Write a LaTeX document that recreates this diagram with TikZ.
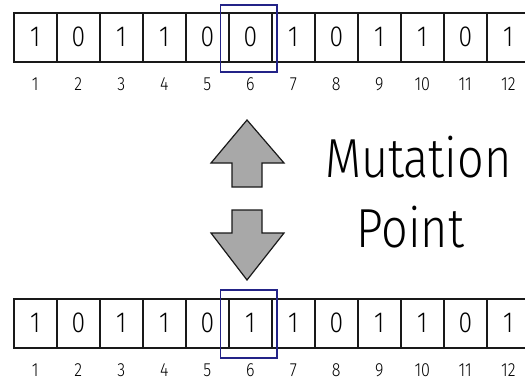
\documentclass[tikz,border=0pt]{standalone}
\usepackage{fontspec}
\setmainfont{Fira Sans}[UprightFont=* Light, FakeStretch=0.85]
\usetikzlibrary{matrix, calc}
\definecolor{markblue}{RGB}{35,35,135}
\definecolor{arrowgray}{RGB}{168,168,168}

\tikzset{
  chromosome/.style={matrix of nodes,
             nodes in empty cells,
             anchor=north west,
             inner sep=0pt, outer sep=0pt,
             column sep={43pt,between origins},
             row sep={46.5pt,between origins},
             nodes={draw=black!90, line width=1.6pt,
                    minimum width=43pt, minimum height=49pt,
                    inner sep=0pt, outer sep=0pt, anchor=center,
                    font=\fontsize{29}{29}\selectfont},
             row 2/.style={nodes={draw=none, minimum height=0pt,
                    font=\fontsize{19}{19}\selectfont}}},
  mutbox/.style={draw=markblue, line width=1.6pt},
  flip/.style={draw=black!90, fill=arrowgray, line width=1.2pt, line join=miter},
  caption/.style={inner sep=0pt, anchor=base west,
                  font=\fontsize{55}{55}\selectfont}
}

\begin{document}
\begin{tikzpicture}[x=1pt, y=-1pt]
\useasboundingbox (0,0) rectangle (525,380);

% parent string
\matrix (top) [chromosome] at (13,12)
{
1 & 0 & 1 & 1 & 0 & 0 & 1 & 0 & 1 & 1 & 0 & 1 \\
1 & 2 & 3 & 4 & 5 & 6 & 7 & 8 & 9 & 10 & 11 & 12 \\
};

% mutated string
\matrix (bot) [chromosome] at (13,298)
{
1 & 0 & 1 & 1 & 0 & 1 & 1 & 0 & 1 & 1 & 0 & 1 \\
1 & 2 & 3 & 4 & 5 & 6 & 7 & 8 & 9 & 10 & 11 & 12 \\
};

\draw[mutbox] ($(top-1-6.north west)+(-8.5,-8)$) rectangle ($(top-1-6.south east)+(5,10)$);
\draw[mutbox] ($(bot-1-6.north west)+(-8.5,-9)$) rectangle ($(bot-1-6.south east)+(5,10)$);

% up and down block arrows
\draw[flip] (247,120) -- (284,163) -- (262,163) -- (262,187) -- (232,187)
            -- (232,163) -- (211,163) -- cycle;
\draw[flip] (247,280) -- (284,233) -- (262,233) -- (262,210) -- (232,210)
            -- (232,233) -- (211,233) -- cycle;

\node[caption] (mut) at (325,177) {Mutation};
\node[caption] (pnt) at (356,247) {Point};
\end{tikzpicture}
\end{document}
